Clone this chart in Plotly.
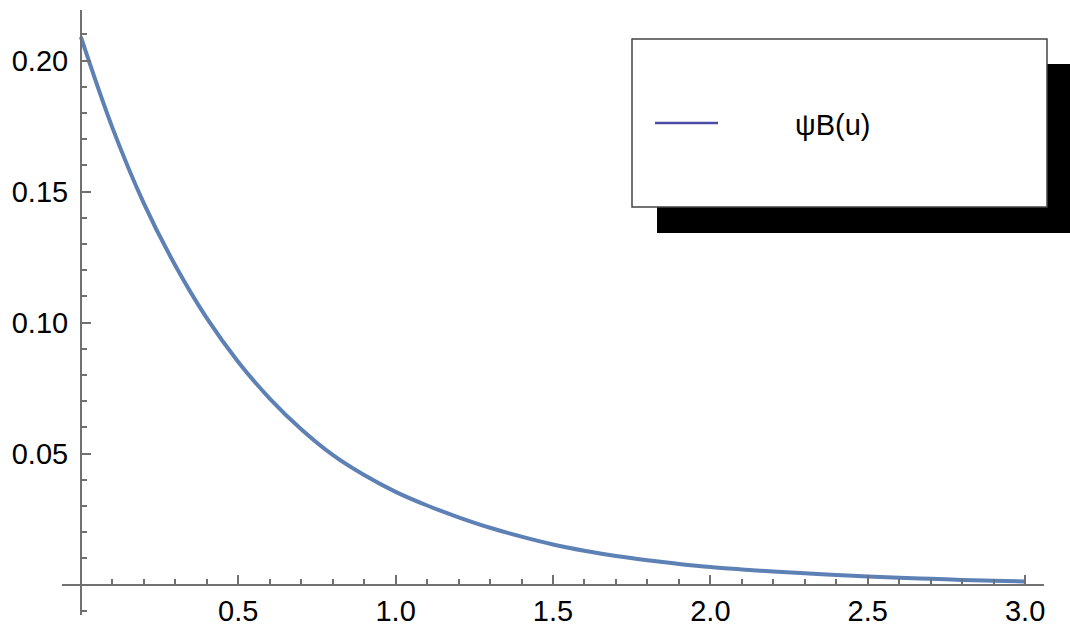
import plotly.graph_objects as go

# psi_B(u) sampled on u in [0, 3]
u_vals = [0.0, 0.1, 0.2, 0.3, 0.4, 0.5, 0.6, 0.7, 0.8, 0.9, 1.0,
          1.1, 1.2, 1.3, 1.4, 1.5, 1.6, 1.7, 1.8, 1.9, 2.0,
          2.1, 2.2, 2.3, 2.4, 2.5, 2.6, 2.7, 2.8, 2.9, 3.0]
psi_vals = [0.2090, 0.1744, 0.1455, 0.1218, 0.1017, 0.0850, 0.0710, 0.0593, 0.0495, 0.0418, 0.0354,
            0.0302, 0.0257, 0.0217, 0.0183, 0.0153, 0.0129, 0.0109, 0.0093, 0.0079, 0.0067,
            0.0058, 0.0050, 0.0043, 0.0037, 0.0031, 0.0026, 0.0022, 0.0018, 0.0015, 0.0012]

x_major = [0.0, 0.5, 1.0, 1.5, 2.0, 2.5, 3.0]
x_major_text = ["", "0.5", "1.0", "1.5", "2.0", "2.5", "3.0"]
y_major = [0.0, 0.05, 0.10, 0.15, 0.20]
y_major_text = ["", "0.05", "0.10", "0.15", "0.20"]
x_minor = [i / 10 for i in range(1, 31)]
y_minor = [i / 100 for i in range(-1, 22)]

legend_label = "ψB(u)"

W, H = 1070, 628
ML, MR, MT, MB = 62, 26, 10, 13
x_range = [-0.06, 3.06]
y_range = [-0.0116, 0.2193]

axis_col = "#707070"
curve_col = "#5E81B5"
font_family = "Liberation Sans, Arial, sans-serif"
fsize = 29

fig = go.Figure()
fig.add_trace(go.Scatter(
    x=u_vals, y=psi_vals, mode="lines",
    line=dict(color=curve_col, width=4, shape="spline"),
    showlegend=False, hoverinfo="skip",
))

x_pos = (0 - y_range[0]) / (y_range[1] - y_range[0])
y_pos = (0 - x_range[0]) / (x_range[1] - x_range[0])

fig.update_layout(
    width=W, height=H,
    margin=dict(l=ML, r=MR, t=MT, b=MB, pad=0, autoexpand=False),
    paper_bgcolor="white", plot_bgcolor="white",
    font=dict(family=font_family, size=fsize, color="black"),
    showlegend=False,
    xaxis=dict(
        range=x_range, anchor="free", position=x_pos, automargin=False,
        showgrid=False, zeroline=False,
        showline=True, linecolor=axis_col, linewidth=1.8,
        tickmode="array", tickvals=x_major, ticktext=x_major_text,
        ticks="inside", ticklen=9, tickwidth=1.7, tickcolor=axis_col,
        minor=dict(tickmode="array", tickvals=x_minor, ticks="inside",
                   ticklen=5, tickwidth=1.5, tickcolor=axis_col, showgrid=False),
        tickfont=dict(size=fsize), ticklabelstandoff=1,
    ),
    yaxis=dict(
        range=y_range, anchor="free", position=y_pos, automargin=False,
        showgrid=False, zeroline=False,
        showline=True, linecolor=axis_col, linewidth=1.8,
        tickmode="array", tickvals=y_major, ticktext=y_major_text,
        ticks="inside", ticklen=9, tickwidth=1.7, tickcolor=axis_col,
        minor=dict(tickmode="array", tickvals=y_minor, ticks="inside",
                   ticklen=5, tickwidth=1.5, tickcolor=axis_col, showgrid=False),
        tickfont=dict(size=fsize), ticklabelstandoff=6,
    ),
)

# legend panel with drop shadow, placed in pixel terms
pw, ph = W - ML - MR, H - MT - MB


def px(x):
    return (x - ML) / pw


def py(y):
    return (H - MB - y) / ph


box = dict(x0=632, y0=39, x1=1047, y1=207)
shadow_off = 25

fig.add_shape(type="rect", xref="paper", yref="paper",
              x0=px(box["x0"] + shadow_off), x1=px(box["x1"] + shadow_off + 40),
              y0=py(box["y1"] + shadow_off + 1), y1=py(box["y0"] + shadow_off),
              fillcolor="black", line=dict(width=0), layer="above")
fig.add_shape(type="rect", xref="paper", yref="paper",
              x0=px(box["x0"]), x1=px(box["x1"]),
              y0=py(box["y1"]), y1=py(box["y0"]),
              fillcolor="white", line=dict(color="#444444", width=1.5), layer="above")
fig.add_shape(type="line", xref="paper", yref="paper",
              x0=px(655), x1=px(718), y0=py(123), y1=py(123),
              line=dict(color="#4B4BA6", width=2.4), layer="above")
fig.add_annotation(xref="paper", yref="paper", x=px(793), y=py(125),
                   xanchor="left", yanchor="middle", showarrow=False,
                   text=legend_label, font=dict(size=fsize, color="black"))

fig.write_html("out.html")
